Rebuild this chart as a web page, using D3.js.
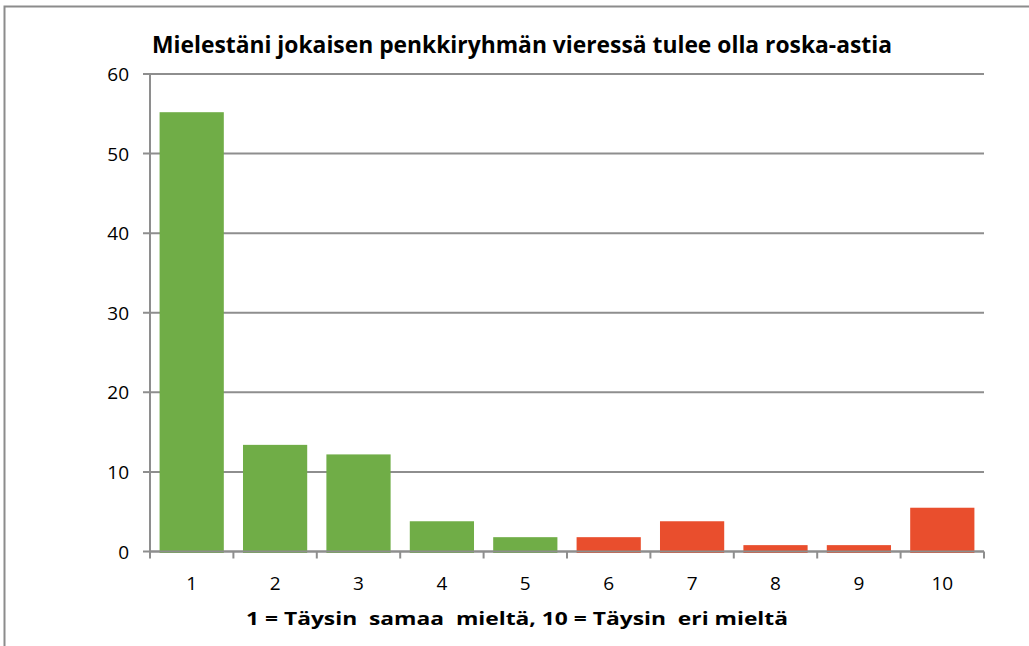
<!DOCTYPE html>
<html>
<head>
<meta charset="utf-8">
<script src="https://cdn.jsdelivr.net/npm/d3@7"></script>
<style>
  body { margin: 0; background: #fff; }
  text { font-family: "Open Sans", "DejaVu Sans", sans-serif; fill: #000; }
</style>
</head>
<body>
<script>
// data (percent)
var categories = ["1", "2", "3", "4", "5", "6", "7", "8", "9", "10"];
var values = [55.2, 13.4, 12.2, 3.8, 1.8, 1.8, 3.8, 0.8, 0.8, 5.5];
var barColors = ["#70ad47", "#70ad47", "#70ad47", "#70ad47", "#70ad47",
                 "#e94e2d", "#e94e2d", "#e94e2d", "#e94e2d", "#e94e2d"];
var yTicks = [0, 10, 20, 30, 40, 50, 60];
var title = "Mielestäni jokaisen penkkiryhmän vieressä tulee olla roska-astia";
var xTitle = "1 = Täysin  samaa  mieltä, 10 = Täysin  eri mieltä";

function init() {
    var w = 1029, h = 646;
    var plotLeft = 150, plotRight = 984, plotTop = 74, plotBottom = 551.5;

    var svg = d3.select("body").append("svg")
        .attr("width", w)
        .attr("height", h);

    // outer frame (right/bottom fall off the picture)
    svg.append("rect")
        .attr("x", 4.5).attr("y", 6.5)
        .attr("width", 1040).attr("height", 700)
        .attr("fill", "none")
        .attr("stroke", "#8c8c8c")
        .attr("stroke-width", 2);

    var xScale = d3.scaleBand()
        .domain(categories)
        .range([plotLeft, plotRight])
        .paddingInner(0.23)
        .paddingOuter(0.115);

    var yScale = d3.scaleLinear()
        .domain([0, 60])
        .range([plotBottom, plotTop]);

    // gridlines
    svg.append("g")
        .selectAll("line")
        .data(yTicks)
        .enter()
        .append("line")
        .attr("x1", plotLeft - 7)
        .attr("x2", plotRight)
        .attr("y1", function(d) { return yScale(d); })
        .attr("y2", function(d) { return yScale(d); })
        .attr("stroke", "#8e8e8e")
        .attr("stroke-width", 2);

    // bars
    svg.append("g")
        .selectAll("rect")
        .data(values)
        .enter()
        .append("rect")
        .attr("x", function(d, i) { return xScale(categories[i]); })
        .attr("y", function(d) { return yScale(d); })
        .attr("width", xScale.bandwidth())
        .attr("height", function(d) { return plotBottom - yScale(d) + 1.5; })
        .attr("fill", function(d, i) { return barColors[i]; });

    // y axis line
    svg.append("line")
        .attr("x1", plotLeft).attr("x2", plotLeft)
        .attr("y1", plotTop).attr("y2", plotBottom)
        .attr("stroke", "#8e8e8e")
        .attr("stroke-width", 2);

    // x axis line + tick marks between categories
    svg.append("line")
        .attr("x1", plotLeft).attr("x2", plotRight)
        .attr("y1", plotBottom).attr("y2", plotBottom)
        .attr("stroke", "#8e8e8e")
        .attr("stroke-width", 2);

    var xTickPos = d3.range(categories.length + 1).map(function(i) {
        return plotLeft + i * (plotRight - plotLeft) / categories.length;
    });
    svg.append("g")
        .selectAll("line")
        .data(xTickPos)
        .enter()
        .append("line")
        .attr("x1", function(d) { return d; })
        .attr("x2", function(d) { return d; })
        .attr("y1", plotBottom)
        .attr("y2", plotBottom + 7)
        .attr("stroke", "#8e8e8e")
        .attr("stroke-width", 2);

    // y labels
    svg.append("g")
        .selectAll("text")
        .data(yTicks)
        .enter()
        .append("text")
        .attr("x", 129)
        .attr("y", function(d) { return yScale(d) + 7; })
        .attr("text-anchor", "end")
        .style("font-size", "19px")
        .text(function(d) { return d; });

    // x labels
    svg.append("g")
        .selectAll("text")
        .data(categories)
        .enter()
        .append("text")
        .attr("x", function(d) { return xScale(d) + xScale.bandwidth() / 2; })
        .attr("y", 590)
        .attr("text-anchor", "middle")
        .style("font-size", "19px")
        .text(function(d) { return d; });

    // title
    svg.append("text")
        .attr("x", 152)
        .attr("y", 53)
        .attr("textLength", 740)
        .attr("lengthAdjust", "spacingAndGlyphs")
        .style("font-size", "24px")
        .style("font-weight", "bold")
        .text(title);

    // x axis title
    svg.append("text")
        .attr("x", 246)
        .attr("y", 625)
        .attr("textLength", 542)
        .attr("lengthAdjust", "spacingAndGlyphs")
        .style("font-size", "17px")
        .style("font-weight", "bold")
        .style("white-space", "pre")
        .text(xTitle);
}
window.onload = init;
</script>
</body>
</html>
